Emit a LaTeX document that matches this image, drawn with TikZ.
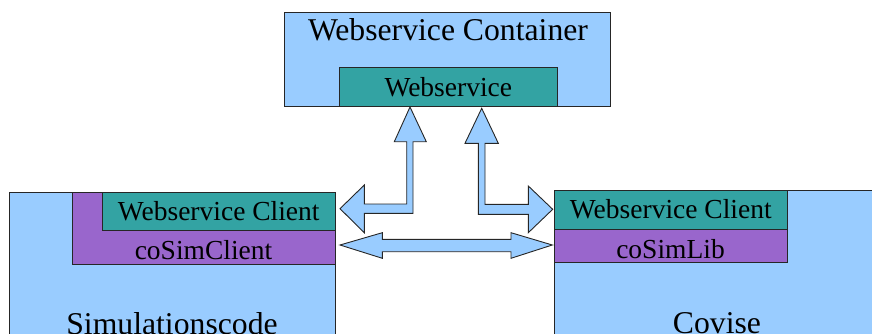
\documentclass[tikz,border=0pt]{standalone}
\usepackage{fontspec}
\setmainfont{Liberation Serif}
\definecolor{lblue}{HTML}{99CCFF}
\definecolor{teal2}{HTML}{33A3A3}
\definecolor{purp}{HTML}{9966CC}
\tikzset{
  box/.style={draw=black!85, line width=0.9pt, inner sep=0pt, outer sep=0pt, anchor=north west},
  bigtxt/.style={inner sep=0pt, anchor=base, font=\fontsize{31.7}{36}\selectfont},
  smtxt/.style={inner sep=0pt, anchor=base, font=\fontsize{27.5}{32}\selectfont},
  arr/.style={draw=black!85, line width=0.9pt, fill=lblue, line join=miter}
}
\begin{document}
\begin{tikzpicture}[x=1pt,y=-1pt]
\useasboundingbox (0,0) rectangle (872,334);
\clip (0,0) rectangle (872,334);
% containers
\node[box, fill=lblue, minimum width=326.4pt, minimum height=93.7pt] (wc) at (284.3,12.3) {};
\node[box, fill=teal2, minimum width=218.7pt, minimum height=39pt] (ws) at (339,67) {};
\node[box, fill=lblue, minimum width=326pt, minimum height=160pt] (sim) at (9,192.3) {};
\node[box, fill=purp, minimum width=263pt, minimum height=71.7pt] (csc) at (72,192.3) {};
\node[box, fill=teal2, minimum width=233pt, minimum height=38.4pt] (wcl) at (102,192.3) {};
\node[box, fill=lblue, minimum width=326pt, minimum height=160pt] (cov) at (554,190.7) {};
\node[box, fill=teal2, minimum width=233pt, minimum height=38.3pt] (wcr) at (554,190.7) {};
\node[box, fill=purp, minimum width=233pt, minimum height=33.7pt] (csl) at (554,229) {};
% texts
\node[bigtxt] (twc) at (448,40.7) {Webservice Container};
\node[smtxt] (tws) at (448.3,96.7) {Webservice};
\node[smtxt] (twcl) at (218.7,220.7) {Webservice Client};
\node[smtxt] (tcsc) at (203.5,259) {coSimClient};
\node[bigtxt] (tsim) at (172,334.5) {Simulationscode};
\node[smtxt] (twcr) at (670.8,218.3) {Webservice Client};
\node[smtxt] (tcsl) at (670.5,258.3) {coSimLib};
\node[bigtxt] (tcov) at (717,333.5) {Covise};
% arrows
\draw[arr] (410,107) -- (426.3,141.7) -- (413,141.7) -- (413,213.3) -- (364.3,213.3)
  -- (364.3,232.7) -- (340,208.7) -- (364.3,185) -- (364.3,204) -- (406.7,204)
  -- (406.7,141.7) -- (394.3,141.7) -- cycle;
\draw[arr] (481.7,108.3) -- (498.3,143.3) -- (485,143.3) -- (485,204.3) -- (528.3,204.3)
  -- (528.3,186) -- (552.7,209.3) -- (528.3,232.7) -- (528.3,214.3) -- (478.3,214.3)
  -- (478.3,143.3) -- (465,143.3) -- cycle;
\draw[arr] (340,245) -- (382.3,232.7) -- (382.3,239.3) -- (511,239.3) -- (511,232.7)
  -- (552.3,245) -- (511,258.3) -- (511,251.7) -- (382.3,251.7) -- (382.3,258.3) -- cycle;
\end{tikzpicture}
\end{document}
